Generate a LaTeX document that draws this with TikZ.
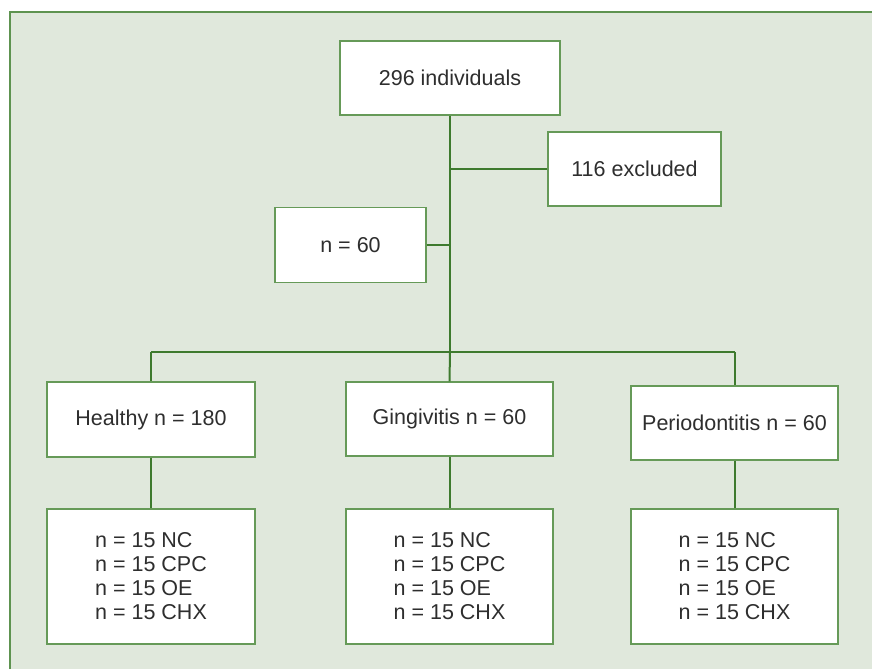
\documentclass[tikz,border=0pt]{standalone}
\usepackage{fontspec}
\setmainfont{Liberation Sans}
\definecolor{bgc}{HTML}{E0E8DC}
\definecolor{framec}{HTML}{5E9350}
\definecolor{boxc}{HTML}{669A58}
\definecolor{linec}{HTML}{3E7A2E}
\definecolor{txtc}{HTML}{2E2E2E}
\begin{document}
\begin{tikzpicture}[x=1pt,y=-1pt,
  box/.style={draw=boxc,line width=1.3pt,fill=white,inner sep=0pt,
    text=txtc,font=\fontsize{21.5}{24}\selectfont},
  conn/.style={draw=linec,line width=2pt}]
\useasboundingbox (0,0) rectangle (872,669);
\fill[white] (0,0) rectangle (872,669);
\fill[bgc] (10,12) rectangle (872,669);
\draw[framec,line width=1.8pt] (10,669) -- (10,12) -- (872,12);
% nodes
\node[box,minimum width=220pt,minimum height=74pt] (top) at (450,78) {296 individuals};
\node[box,minimum width=173pt,minimum height=74pt] (excl) at (634.5,169) {116 excluded};
\node[box,minimum width=151pt,minimum height=75pt] (n60) at (350.5,245) {n = 60};
\node[box,minimum width=208pt,minimum height=75pt] (healthy) at (151,419.5) {Healthy n = 180};
\node[box,minimum width=207pt,minimum height=74pt] (ging) at (449.5,419) {Gingivitis n = 60};
\node[box,minimum width=207pt,minimum height=74pt] (perio) at (734.5,423) {Periodontitis n = 60};
\node[box,minimum width=208pt,minimum height=135pt,align=left] (hl) at (151,576.5) {n = 15 NC\\n = 15 CPC\\n = 15 OE\\n = 15 CHX};
\node[box,minimum width=207pt,minimum height=135pt,align=left] (gl) at (449.5,576.5) {n = 15 NC\\n = 15 CPC\\n = 15 OE\\n = 15 CHX};
\node[box,minimum width=207pt,minimum height=135pt,align=left] (pl) at (734.5,576.5) {n = 15 NC\\n = 15 CPC\\n = 15 OE\\n = 15 CHX};
% bar coordinates
\coordinate (bar) at (450,352);
\coordinate (barL) at (151,352);
\coordinate (barR) at (734.5,352);
% connectors
\draw[conn] (top.south) -- (bar);
\draw[conn,line width=1.6pt] (excl.west) -- (excl.west -| top.south);
\draw[conn,line width=1.6pt] (n60.east) -- (n60.east -| top.south);
\draw[conn,line width=1.6pt] (barL) -- (barR);
\draw[conn] (barL) -- (healthy.north);
\draw[conn] (bar) -- (ging.north);
\draw[conn] (barR) -- (perio.north);
\draw[conn] (healthy.south) -- (hl.north);
\draw[conn] (ging.south) -- (gl.north);
\draw[conn] (perio.south) -- (pl.north);
\end{tikzpicture}
\end{document}
